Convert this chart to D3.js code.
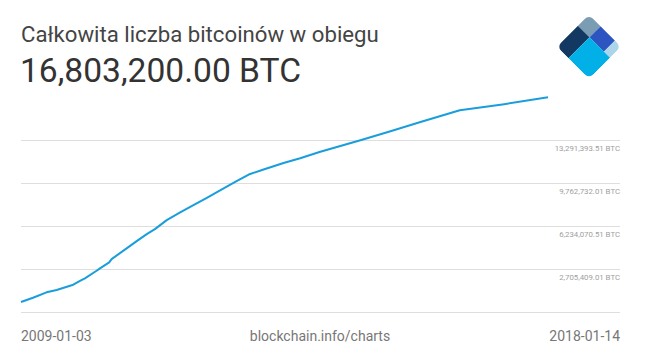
<!DOCTYPE html>
<meta charset="utf-8">
<script src="https://d3js.org/d3.v7.min.js"></script>
<style>
  body { margin: 0; background: #fff; }
  text { font-family: Roboto, sans-serif; }
</style>
<div id="my_dataviz"></div>
<script>

    // data
    var dates = [
        "2009-01-03", "2009-03-19", "2009-06-12", "2009-08-14", "2009-11-26",
        "2010-01-10", "2010-02-07", "2010-04-21", "2010-05-12", "2010-07-09",
        "2010-07-24", "2010-10-26", "2010-12-28", "2011-03-01", "2011-04-21",
        "2011-07-04", "2011-09-26", "2011-12-18", "2012-03-11", "2012-06-24",
        "2012-09-16", "2012-11-28", "2013-03-01", "2013-07-04", "2013-10-16",
        "2014-02-19", "2014-10-28", "2015-05-04", "2015-11-08", "2016-07-11",
        "2017-04-15", "2018-01-14"
    ];
    var supply = [
        50, 349000, 791000, 979000, 1414000,
        1750000, 1938000, 2561000, 2757000, 3249000,
        3519000, 4396000, 4994000, 5568000, 5977000,
        6715000, 7345000, 7944000, 8541000, 9312000,
        9934000, 10459000, 10868000, 11409000, 11800000,
        12330000, 13269000, 14006000, 14768000, 15727000,
        16230000, 16803200
    ];
    var tickValues = [2705409.01, 6234070.51, 9762732.01, 13291393.51];
    var yMin = -823252.49, yMax = 16820055.01;

    var title = "Całkowita liczba bitcoinów w obiegu";
    var total = "16,803,200.00 BTC";
    var source = "blockchain.info/charts";

    var width = 645, height = 362;
    var parse = d3.timeParse("%Y-%m-%d");
    var data = dates.map(function(d, i) { return {date: parse(d), value: supply[i]}; });

    var svg = d3.select("#my_dataviz")
        .append("svg")
        .attr("width", width)
        .attr("height", height);

    var x = d3.scaleTime()
        .domain([parse(dates[0]), parse(dates[dates.length - 1])])
        .range([21, 548]);

    var y = d3.scaleLinear()
        .domain([yMin, yMax])
        .range([312, 97]);

    // gridlines + labels
    var grid = svg.append("g");
    grid.selectAll("line")
        .data([yMin].concat(tickValues))
        .enter().append("line")
        .attr("x1", 21).attr("x2", 620)
        .attr("y1", function(d) { return Math.round(y(d)) + 0.5; })
        .attr("y2", function(d) { return Math.round(y(d)) + 0.5; })
        .attr("stroke", "#dedede")
        .attr("stroke-width", 1);

    var fmt = d3.format(",.2f");
    grid.selectAll("text")
        .data(tickValues)
        .enter().append("text")
        .attr("x", 620)
        .attr("y", function(d) { return Math.round(y(d)) + 11; })
        .attr("text-anchor", "end")
        .attr("font-size", "7.8px")
        .attr("fill", "#a0a0a0")
        .text(function(d) { return fmt(d) + " BTC"; });

    // the line
    svg.append("path")
        .datum(data)
        .attr("fill", "none")
        .attr("stroke", "#1a9edb")
        .attr("stroke-width", 2)
        .attr("stroke-linejoin", "round")
        .attr("d", d3.line()
            .x(function(d) { return x(d.date); })
            .y(function(d) { return y(d.value); }));

    // header
    svg.append("text")
        .attr("x", 21).attr("y", 42)
        .attr("font-size", "22.2px")
        .attr("fill", "#444")
        .text(title);

    svg.append("text")
        .attr("x", 20).attr("y", 82)
        .attr("font-size", "33.6px")
        .attr("fill", "#333")
        .text(total);

    // footer
    var fmtDate = d3.timeFormat("%Y-%m-%d");
    svg.append("text")
        .attr("x", 21).attr("y", 341)
        .attr("font-size", "14px").attr("fill", "#777")
        .text(fmtDate(x.domain()[0]));
    svg.append("text")
        .attr("x", 320).attr("y", 341)
        .attr("text-anchor", "middle")
        .attr("font-size", "14px").attr("fill", "#777")
        .text(source);
    svg.append("text")
        .attr("x", 620).attr("y", 341)
        .attr("text-anchor", "end")
        .attr("font-size", "14px").attr("fill", "#777")
        .text(fmtDate(x.domain()[1]));

    // logo (rotated diamond of squares)
    var defs = svg.append("defs");
    defs.append("clipPath").attr("id", "logoclip")
        .append("rect")
        .attr("width", 45.5).attr("height", 45.5)
        .attr("rx", 6).attr("ry", 6);

    var logo = svg.append("g")
        .attr("transform", "translate(589,14.5) rotate(45)")
        .append("g")
        .attr("clip-path", "url(#logoclip)");

    var pieces = [
        {x: 0, y: 0, w: 16.5, h: 15.8, c: "#7b9db4"},
        {x: 0, y: 15.8, w: 16.5, h: 29.7, c: "#133862"},
        {x: 16.5, y: 0, w: 20.3, h: 15.8, c: "#2c55c2"},
        {x: 36.8, y: 0, w: 8.7, h: 15.8, c: "#acd5ea"},
        {x: 16.5, y: 15.8, w: 29, h: 29.7, c: "#01b0e6"}
    ];
    logo.selectAll("rect")
        .data(pieces)
        .enter().append("rect")
        .attr("x", function(d) { return d.x; })
        .attr("y", function(d) { return d.y; })
        .attr("width", function(d) { return d.w; })
        .attr("height", function(d) { return d.h; })
        .attr("fill", function(d) { return d.c; });

</script>
